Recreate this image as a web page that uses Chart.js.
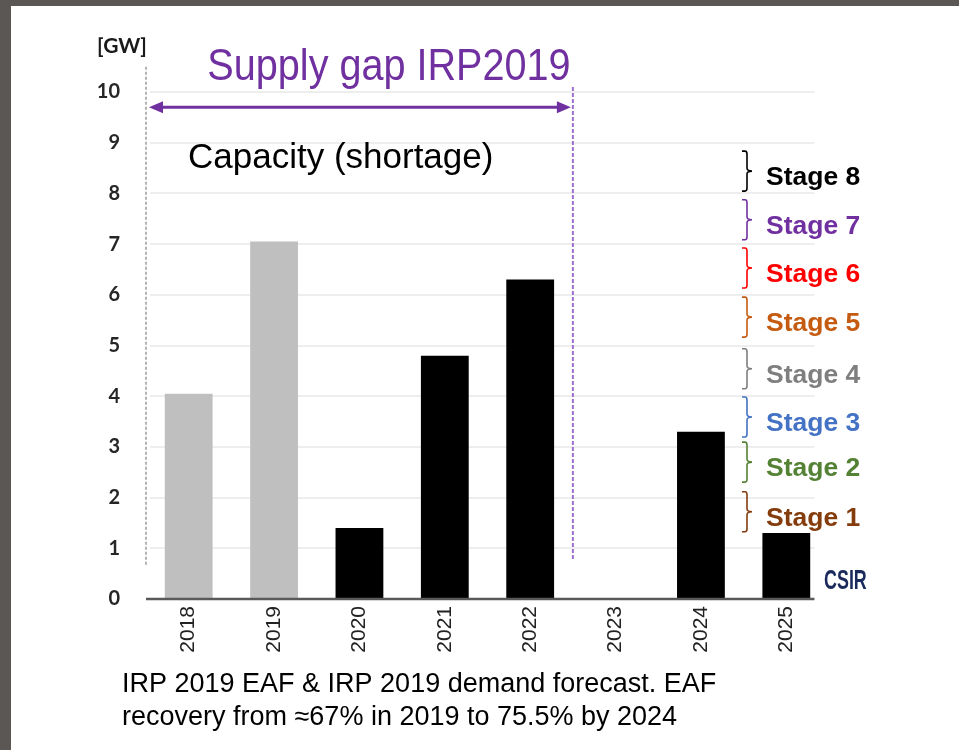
<!DOCTYPE html>
<html>
<head>
<meta charset="utf-8">
<script src="https://cdn.jsdelivr.net/npm/chart.js@4.4.1/dist/chart.umd.min.js"></script>
<style>
  html, body { margin: 0; padding: 0; background: #fff; }
  #wrap { width: 959px; height: 750px; position: relative; }
</style>
</head>
<body>
<div id="wrap"><canvas id="gapChart" width="959" height="750"></canvas></div>
<script>
// --- data ---
const years = ['2018', '2019', '2020', '2021', '2022', '2023', '2024', '2025'];
const shortageGW = [4.05, 7.05, 1.4, 4.8, 6.3, null, 3.3, 1.3];
const barColors = ['#bfbfbf', '#bfbfbf', '#000000', '#000000', '#000000', '#000000', '#000000', '#000000'];
const yTicks = [0, 1, 2, 3, 4, 5, 6, 7, 8, 9, 10];

const stageNames = ['Stage 8', 'Stage 7', 'Stage 6', 'Stage 5', 'Stage 4', 'Stage 3', 'Stage 2', 'Stage 1'];
const stageColors = ['#000000', '#7030a0', '#ff0000', '#c55a11', '#7f7f7f', '#4472c4', '#548235', '#843c0c'];
const stageLevels = [8.44, 7.48, 6.53, 5.56, 4.54, 3.59, 2.70, 1.72]; // brace centres in GW

const titleText = 'Supply gap IRP2019';
const unitText = '[GW]';
const insideText = 'Capacity (shortage)';
const captionLines = ['IRP 2019 EAF & IRP 2019 demand forecast. EAF', 'recovery from \u224867% in 2019 to 75.5% by 2024'];

// all the extra drawing (frame, arrows, braces, texts)
const extras = {
    id: 'extras',
    beforeDraw(chart) {
        const ctx = chart.ctx;
        ctx.save();
        ctx.fillStyle = '#ffffff';
        ctx.fillRect(0, 0, chart.width, chart.height);
        ctx.fillStyle = '#5b5755';
        ctx.fillRect(0, 0, chart.width, 6);
        ctx.fillRect(0, 0, 11, chart.height);
        ctx.restore();
    },
    beforeDatasetsDraw(chart) {
        const { ctx, chartArea, scales: { x, y } } = chart;
        const right = x.getPixelForValue(years.length - 1) + x.width / years.length * 0.33;
        ctx.save();
        ctx.strokeStyle = '#eeeeee';
        ctx.lineWidth = 2;
        yTicks.forEach(t => {
            if (t === 0) return;
            const py = Math.round(y.getPixelForValue(t));
            ctx.beginPath();
            ctx.moveTo(chartArea.left + 4, py);
            ctx.lineTo(right, py);
            ctx.stroke();
        });
        ctx.restore();
    },
    afterDraw(chart) {
        const { ctx, chartArea, scales: { x, y } } = chart;
        const catW = x.width / years.length;
        const right = x.getPixelForValue(years.length - 1) + catW * 0.33;
        ctx.save();

        // x axis line
        ctx.strokeStyle = '#595959';
        ctx.lineWidth = 2.5;
        ctx.beginPath();
        ctx.moveTo(chartArea.left, y.getPixelForValue(0));
        ctx.lineTo(right, y.getPixelForValue(0));
        ctx.stroke();

        // grey dashed line at left
        ctx.strokeStyle = '#9a9a9a';
        ctx.lineWidth = 1.5;
        ctx.setLineDash([3, 2]);
        ctx.beginPath();
        ctx.moveTo(chartArea.left, y.getPixelForValue(10.5));
        ctx.lineTo(chartArea.left, y.getPixelForValue(0.65));
        ctx.stroke();

        // purple dotted line between 2022 and 2023
        const gapX = (x.getPixelForValue(4) + x.getPixelForValue(5)) / 2;
        ctx.strokeStyle = '#a070d0';
        ctx.lineWidth = 2;
        ctx.setLineDash([4, 2]);
        ctx.beginPath();
        ctx.moveTo(gapX, y.getPixelForValue(10.1));
        ctx.lineTo(gapX, y.getPixelForValue(0.75));
        ctx.stroke();
        ctx.setLineDash([]);

        // double arrow
        const ay = y.getPixelForValue(9.7);
        const ax0 = chartArea.left + 3, ax1 = gapX - 2;
        ctx.strokeStyle = '#7030a0';
        ctx.fillStyle = '#7030a0';
        ctx.lineWidth = 3;
        ctx.beginPath();
        ctx.moveTo(ax0 + 10, ay);
        ctx.lineTo(ax1 - 10, ay);
        ctx.stroke();
        ctx.beginPath();
        ctx.moveTo(ax0, ay); ctx.lineTo(ax0 + 14, ay - 6); ctx.lineTo(ax0 + 14, ay + 6); ctx.closePath();
        ctx.fill();
        ctx.beginPath();
        ctx.moveTo(ax1, ay); ctx.lineTo(ax1 - 14, ay - 6); ctx.lineTo(ax1 - 14, ay + 6); ctx.closePath();
        ctx.fill();

        // title (narrow look)
        ctx.save();
        ctx.font = '44px "Liberation Sans", Arial, sans-serif';
        ctx.textAlign = 'center';
        ctx.textBaseline = 'alphabetic';
        ctx.translate(389, 80);
        ctx.scale(0.9, 1);
        ctx.fillStyle = '#7030a0';
        ctx.fillText(titleText, 0, 0);
        ctx.restore();

        // unit
        ctx.font = 'bold 21px Lato, "Open Sans", sans-serif';
        ctx.fillStyle = '#1a1a1a';
        ctx.textAlign = 'center';
        ctx.fillText(unitText, 122, 53);

        // capacity label
        ctx.font = '35px "Liberation Sans", Arial, sans-serif';
        ctx.textAlign = 'left';
        ctx.fillStyle = '#000000';
        ctx.fillText(insideText, 188, 168);

        // stage braces and labels
        const bx0 = 742, bx1 = 747, bx2 = 752;
        stageNames.forEach((name, i) => {
            const mid = y.getPixelForValue(stageLevels[i]);
            const top = mid - 20, bot = mid + 20;
            ctx.strokeStyle = stageColors[i];
            ctx.lineWidth = 1.6;
            ctx.beginPath();
            ctx.moveTo(bx0, top);
            ctx.lineTo(bx1 - 2, top);
            ctx.quadraticCurveTo(bx1, top, bx1, top + 3);
            ctx.lineTo(bx1, mid - 3);
            ctx.quadraticCurveTo(bx1, mid, bx2, mid);
            ctx.quadraticCurveTo(bx1, mid, bx1, mid + 3);
            ctx.lineTo(bx1, bot - 3);
            ctx.quadraticCurveTo(bx1, bot, bx1 - 2, bot);
            ctx.lineTo(bx0, bot);
            ctx.stroke();
            ctx.font = 'bold 26.5px "Liberation Sans", Arial, sans-serif';
            ctx.fillStyle = stageColors[i];
            ctx.textAlign = 'left';
            ctx.fillText(name, 766, mid + 14);
        });

        // logo text
        ctx.save();
        ctx.font = 'bold 28px "Liberation Sans", Arial, sans-serif';
        ctx.fillStyle = '#1b2a5c';
        ctx.translate(824, 589);
        ctx.scale(0.64, 1);
        ctx.textAlign = 'left';
        ctx.fillText('CSIR', 0, 0);
        ctx.restore();

        // caption
        ctx.font = '27px "Liberation Sans", Arial, sans-serif';
        ctx.fillStyle = '#000000';
        ctx.textAlign = 'left';
        captionLines.forEach((line, i) => ctx.fillText(line, 122, 692 + i * 33));

        ctx.restore();
    }
};

new Chart(document.getElementById('gapChart'), {
    type: 'bar',
    data: {
        labels: years,
        datasets: [{
            data: shortageGW,
            backgroundColor: barColors,
            borderWidth: 0,
            barPercentage: 0.56,
            categoryPercentage: 1
        }]
    },
    options: {
        responsive: false,
        animation: false,
        layout: { padding: { left: 0, right: 130, top: 92, bottom: 0 } },
        plugins: { legend: { display: false }, tooltip: { enabled: false }, title: { display: false } },
        scales: {
            x: {
                grid: { display: false, drawTicks: false },
                border: { display: false },
                ticks: {
                    minRotation: 90, maxRotation: 90, padding: 7,
                    color: '#222222',
                    font: { family: '"Liberation Sans", Arial, sans-serif', size: 21 }
                },
                afterFit: (s) => { s.height = 151; }
            },
            y: {
                min: 0, max: 10,
                grid: { display: false, drawTicks: false },
                border: { display: false },
                ticks: {
                    stepSize: 1, padding: 26,
                    color: '#262626',
                    font: { family: 'Lato, "Open Sans", sans-serif', size: 20, weight: 'bold' }
                },
                afterFit: (s) => { s.width = 146; }
            }
        }
    },
    plugins: [extras]
});
</script>
</body>
</html>
